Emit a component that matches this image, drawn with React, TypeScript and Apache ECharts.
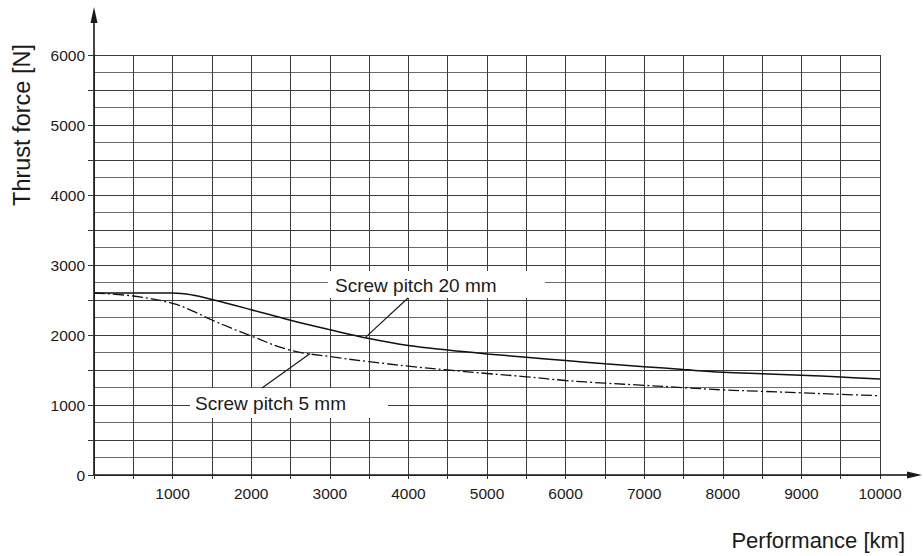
import { useEffect, useRef } from "react";
import * as echarts from "echarts";

// Performance [km] sample positions
const distanceKm = [0, 500, 1000, 1250, 1500, 2000, 2500, 3000, 3500, 4000, 4500, 5000, 5500, 6000, 6500, 7000, 7500, 8000, 8500, 9000, 9500, 10000];
// Thrust force [N], screw pitch 20 mm (solid)
const thrustPitch20 = [2600, 2600, 2600, 2572, 2508, 2362, 2210, 2075, 1950, 1850, 1785, 1730, 1682, 1634, 1588, 1548, 1506, 1468, 1446, 1426, 1400, 1371];
// Thrust force [N], screw pitch 5 mm (dash-dot)
const thrustPitch5 = [2600, 2557, 2452, 2345, 2214, 1986, 1782, 1692, 1619, 1555, 1500, 1450, 1403, 1350, 1312, 1281, 1248, 1216, 1195, 1174, 1152, 1133];

const xTickLabels = ["1000", "2000", "3000", "4000", "5000", "6000", "7000", "8000", "9000", "10000"];
const yTickLabels = ["0", "1000", "2000", "3000", "4000", "5000", "6000"];
const seriesNames = ["Screw pitch 20 mm", "Screw pitch 5 mm"];
const axisTitles = { x: "Performance [km]", y: "Thrust force [N]" };
// where the leader lines touch the curves (km)
const leaderAt = { pitch20: 3450, pitch5: 2750 };

const FONT = '"Liberation Sans", Arial, Helvetica, sans-serif';
const INK = "#1a1a1a";
const GRID = "#3c3c3c";

function interp(xs: number[], ys: number[], x: number) {
  for (let i = 0; i < xs.length - 1; i++) {
    if (x >= xs[i] && x <= xs[i + 1]) {
      const t = (x - xs[i]) / (xs[i + 1] - xs[i]);
      return ys[i] + t * (ys[i + 1] - ys[i]);
    }
  }
  return ys[ys.length - 1];
}

export default function App() {
  const ref = useRef<HTMLDivElement>(null);
  useEffect(() => {
    document.body.style.margin = "0";
    const chart = echarts.init(ref.current!, null, { renderer: "svg" });
    const gl = 94, gt = 55, gw = 786, gh = 420;
    chart.setOption({
      animation: false,
      backgroundColor: "#fff",
      grid: { left: gl, top: gt, width: gw, height: gh, containLabel: false },
      xAxis: {
        type: "value",
        min: 0,
        max: 10000,
        interval: 500,
        axisLine: { show: true, lineStyle: { color: INK, width: 1.6 } },
        axisTick: { show: true, length: 4, lineStyle: { color: "#333" } },
        axisLabel: {
          margin: 10,
          fontSize: 15.5,
          color: INK,
          fontFamily: FONT,
          showMinLabel: true,
          showMaxLabel: true,
          formatter: (v: number) => (xTickLabels.includes(String(v)) ? String(v) : ""),
        },
        splitLine: { show: true, lineStyle: { color: GRID, width: 1 } },
      },
      yAxis: {
        type: "value",
        min: 0,
        max: 6000,
        interval: 500,
        axisLine: { show: true, lineStyle: { color: INK, width: 1.6 } },
        axisTick: { show: true, length: 6, lineStyle: { color: "#333" } },
        minorTick: { show: false, splitNumber: 2 },
        minorSplitLine: { show: true, lineStyle: { color: "#6a6a6a", width: 1 } },
        axisLabel: {
          margin: 9,
          fontSize: 15.5,
          color: INK,
          fontFamily: FONT,
          showMinLabel: true,
          showMaxLabel: true,
          formatter: (v: number) => (yTickLabels.includes(String(v)) ? String(v) : ""),
        },
        splitLine: { show: true, lineStyle: { color: GRID, width: 1 } },
      },
      series: [
        {
          name: seriesNames[0],
          type: "line",
          data: distanceKm.map((d, i) => [d, thrustPitch20[i]]),
          symbol: "none",
          smooth: 0.4,
          lineStyle: { color: "#111", width: 1.5, type: "solid" },
          z: 5,
        },
        {
          name: seriesNames[1],
          type: "line",
          data: distanceKm.map((d, i) => [d, thrustPitch5[i]]),
          symbol: "none",
          smooth: 0.4,
          lineStyle: { color: "#111", width: 1.3, type: [11, 3, 2, 3] },
          z: 5,
        },
      ],
    });

    const e20 = chart.convertToPixel({ gridIndex: 0 }, [leaderAt.pitch20, interp(distanceKm, thrustPitch20, leaderAt.pitch20)]) as number[];
    const e5 = chart.convertToPixel({ gridIndex: 0 }, [leaderAt.pitch5, interp(distanceKm, thrustPitch5, leaderAt.pitch5)]) as number[];
    const axisStyle = { stroke: INK, lineWidth: 1.6 };
    const textStyle = (text: string, size: number, align: string) => ({
      text,
      fontSize: size,
      fontFamily: FONT,
      fill: INK,
      align,
      verticalAlign: "middle",
    });

    chart.setOption({
      graphic: [
        // axis extensions and arrows
        { type: "line", z: 20, shape: { x1: gl, y1: gt, x2: gl, y2: 20 }, style: axisStyle },
        { type: "polygon", z: 20, shape: { points: [[gl, 7], [gl - 3.5, 23], [gl + 3.5, 23]] }, style: { fill: INK } },
        { type: "line", z: 20, shape: { x1: gl + gw, y1: gt + gh, x2: 910, y2: gt + gh }, style: axisStyle },
        { type: "polygon", z: 20, shape: { points: [[922, gt + gh], [907, gt + gh - 3.5], [907, gt + gh + 3.5]] }, style: { fill: INK } },
        // axis titles
        { type: "text", z: 20, x: 22, y: 125, rotation: Math.PI / 2, style: textStyle(axisTitles.y, 23.5, "center") },
        { type: "text", z: 20, x: 905, y: 540, style: textStyle(axisTitles.x, 22, "right") },
        // annotation 20 mm
        { type: "rect", z: 10, shape: { x: 328, y: 271, width: 217, height: 27 }, style: { fill: "#fff" } },
        { type: "text", z: 11, x: 335, y: 285, style: textStyle(seriesNames[0], 19, "left") },
        { type: "line", z: 11, shape: { x1: 408, y1: 298, x2: e20[0], y2: e20[1] }, style: { stroke: INK, lineWidth: 1.2 } },
        // annotation 5 mm
        { type: "rect", z: 10, shape: { x: 190, y: 388, width: 198, height: 30 }, style: { fill: "#fff" } },
        { type: "text", z: 11, x: 195, y: 403, style: textStyle(seriesNames[1], 19, "left") },
        { type: "line", z: 11, shape: { x1: 262, y1: 388, x2: e5[0], y2: e5[1] }, style: { stroke: INK, lineWidth: 1.2 } },
      ],
    });
    return () => chart.dispose();
  }, []);
  return <div ref={ref} style={{ width: 923, height: 556 }} />;
}
